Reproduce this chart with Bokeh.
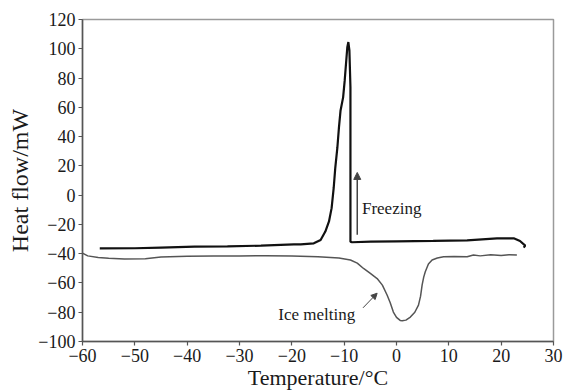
from bokeh.plotting import figure
from bokeh.models import Range1d, Arrow, NormalHead, FixedTicker, CustomJSTickFormatter
from bokeh.core.properties import value
from bokeh.embed import file_html
from bokeh.resources import INLINE

# Freezing (cooling) curve
freeze_t = [-56.7, -50.0, -45.0, -38.6, -32.3, -25.9, -19.6, -18.3, -15.8, -14.5, -13.6, -12.9,
            -12.4, -12.0, -11.7, -11.3, -11.0, -10.7, -10.2, -9.9, -9.6, -9.4, -9.2, -9.0,
            -8.8, -8.8, -8.5, -4.9, 0.0, 7.0, 13.5, 19.2, 22.4, 23.6, 24.6, 24.3]
freeze_q = [-36.4, -36.3, -35.8, -35.2, -35.0, -34.5, -33.6, -33.6, -32.9, -30.6, -24.9, -18.0,
            -8.9, 4.9, 18.6, 32.4, 46.1, 57.6, 66.8, 78.2, 92.0, 101.0, 104.6, 98.9,
            73.6, -31.8, -32.2, -31.8, -31.6, -31.3, -30.9, -29.5, -29.5, -31.3, -34.5, -35.9]

# Melting (heating) curve
melt_t = [-60.0, -59.0, -57.0, -55.0, -52.0, -48.0, -45.0, -40.0, -35.0, -30.0, -25.0, -20.0,
          -15.0, -11.0, -8.8, -7.5, -6.3, -5.0, -3.7, -2.7, -1.8, -1.2, -0.6, 0.0, 0.7, 1.1,
          1.8, 2.65, 3.5, 4.2, 4.6, 4.9, 5.2, 5.5, 6.1, 6.8, 7.8, 9.0, 11.0, 13.5, 14.7, 16.0,
          18.0, 20.0, 21.5, 23.0]
melt_q = [-39.6, -41.5, -42.6, -43.2, -43.6, -43.5, -42.3, -41.8, -41.6, -41.5, -41.4, -41.6,
          -42.1, -43.0, -44.3, -46.5, -50.1, -53.5, -57.0, -61.5, -68.2, -73.5, -79.9, -83.5,
          -85.6, -85.8, -85.4, -83.3, -80.0, -75.1, -69.0, -61.3, -56.0, -52.4, -47.0, -44.3,
          -43.0, -42.1, -42.0, -42.1, -40.9, -41.5, -40.8, -41.2, -40.7, -40.9]

x_ticks = [-60, -50, -40, -30, -20, -10, 0, 10, 20, 30]
y_ticks = [-100, -80, -60, -40, -20, 0, 20, 40, 60, 80, 100, 120]

# annotations: (x, y) in data units
freeze_arrow = [(-7.5, -27.0), (-7.5, 15.5)]
freeze_label = ("Freezing", -6.6, -9.0)
melt_arrow = [(-6.4, -77.0), (-3.7, -67.0)]
melt_label = ("Ice melting", -22.6, -81.5)

FONT = "Liberation Serif"

p = figure(width=563, height=392, output_backend="svg", toolbar_location=None,
           x_range=Range1d(-60, 30), y_range=Range1d(-100, 120),
           min_border_left=82, min_border_right=10, min_border_top=19, min_border_bottom=50)

p.xgrid.grid_line_color = None
p.ygrid.grid_line_color = None
p.outline_line_color = "#9a9a9a"
p.outline_line_width = 1.5
p.background_fill_color = "white"
p.border_fill_color = "white"

fmt = CustomJSTickFormatter(code="return String(tick).replace('-', '\u2212');")

for ax, ticks in ((p.xaxis, x_ticks), (p.yaxis, y_ticks)):
    ax.ticker = FixedTicker(ticks=ticks)
    ax.formatter = fmt
    ax.minor_tick_line_color = None
    ax.major_tick_in = 0
    ax.major_tick_out = 4
    ax.axis_line_color = "#555555"
    ax.axis_line_width = 1.5
    ax.major_tick_line_color = "#555555"
    ax.major_tick_line_width = 1.2
    ax.major_label_text_font = FONT
    ax.major_label_text_font_size = "18px"
    ax.major_label_text_color = "#1a1a1a"
    ax.axis_label_text_font = FONT
    ax.axis_label_text_font_style = "normal"
    ax.axis_label_text_color = "#1a1a1a"
    ax.major_label_standoff = 3

p.xaxis.axis_label = "Temperature/\u00b0C"
p.yaxis.axis_label = "Heat flow/mW"
p.xaxis.axis_label_text_font_size = "22px"
p.yaxis.axis_label_text_font_size = "24px"
p.xaxis.axis_label_standoff = 0
p.yaxis.axis_label_standoff = 2

p.line(melt_t, melt_q, line_color="#555555", line_width=1.5)
p.line(freeze_t, freeze_q, line_color="#111111", line_width=2.2)

p.add_layout(Arrow(end=NormalHead(size=7, fill_color="#444444", line_color="#444444"),
                   x_start=freeze_arrow[0][0], y_start=freeze_arrow[0][1],
                   x_end=freeze_arrow[1][0], y_end=freeze_arrow[1][1],
                   line_color="#444444", line_width=1.5))
p.add_layout(Arrow(end=NormalHead(size=6, fill_color="#444444", line_color="#444444"),
                   x_start=melt_arrow[0][0], y_start=melt_arrow[0][1],
                   x_end=melt_arrow[1][0], y_end=melt_arrow[1][1],
                   line_color="#444444", line_width=1))

for txt, tx, ty in (freeze_label, melt_label):
    p.text(x=[tx], y=[ty], text=[txt], text_font=value(FONT), text_font_size="17px",
           text_align="left", text_baseline="middle", text_color="#1a1a1a")

open("out.html", "w").write(file_html(p, INLINE))
